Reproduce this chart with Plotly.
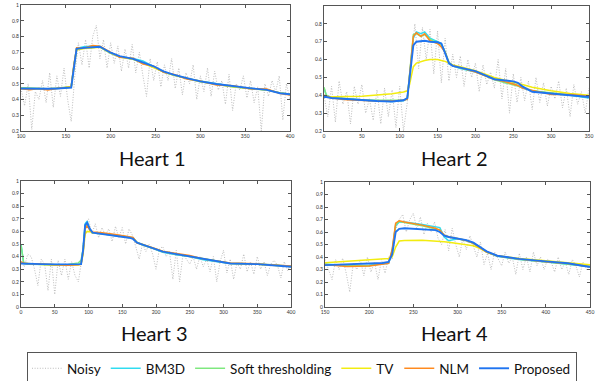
import plotly.graph_objects as go

# ---------------- data ----------------
names = ["Noisy", "BM3D", "Soft thresholding", "TV", "NLM", "Proposed"]
titles = ["Heart 1", "Heart 2", "Heart 3", "Heart 4"]

# Heart 1
x1n = list(range(100, 401, 4))
noisy1 = [.47,.36,.50,.21,.45,.40,.52,.38,.57,.35,.55,.42,.60,.40,.26,.55,.76,.62,.78,.60,
          .80,.87,.66,.78,.60,.76,.63,.74,.58,.72,.60,.75,.57,.70,.55,.42,.66,.52,.64,.48,
          .62,.52,.66,.47,.60,.43,.57,.50,.62,.40,.55,.45,.60,.42,.58,.46,.52,.37,.56,.33,
          .50,.46,.55,.41,.52,.38,.48,.20,.50,.42,.52,.45,.55,.27,.50,.40]
x1s = [100,110,120,130,140,150,156,159,162,170,180,188,200,210,225,236,248,259,270,285,300,318,337,355,374,389,400]
bm3d1 = [.472,.470,.469,.467,.470,.474,.478,.610,.725,.735,.740,.736,.695,.672,.660,.645,.608,.575,.556,.534,.517,.500,.482,.470,.462,.442,.432]
soft1 = [.475,.472,.470,.468,.472,.478,.482,.620,.718,.726,.732,.733,.693,.670,.655,.632,.606,.575,.555,.533,.513,.496,.480,.470,.460,.442,.435]
tv1 = [.470,.469,.468,.469,.471,.474,.478,.600,.715,.724,.730,.732,.694,.673,.656,.630,.605,.576,.556,.535,.514,.497,.481,.471,.461,.441,.434]
nlm1 = [.468,.462,.470,.460,.470,.476,.480,.620,.728,.725,.742,.738,.700,.668,.662,.625,.612,.572,.560,.530,.518,.492,.488,.468,.466,.438,.428]
prop1 = [.470,.468,.468,.468,.470,.472,.475,.600,.722,.728,.733,.735,.697,.675,.658,.637,.611,.579,.558,.536,.515,.498,.483,.472,.461,.440,.433]

# Heart 2
x2n = list(range(0, 351, 5))
noisy2 = [.40,.28,.45,.25,.48,.35,.42,.24,.45,.35,.46,.30,.38,.26,.43,.24,.44,.28,.43,.22,
          .45,.20,.36,.60,.80,.55,.78,.60,.77,.52,.76,.47,.72,.48,.63,.50,.62,.45,.60,.50,
          .58,.42,.57,.46,.53,.44,.60,.38,.55,.30,.52,.36,.50,.37,.48,.32,.50,.36,.47,.34,
          .45,.38,.48,.33,.44,.28,.46,.35,.42,.30,.44]
x2s = [0,3,10,30,50,70,90,105,110,113,118,122,128,133,140,150,155,160,165,170,180,200,225,240,250,256,262,275,300,325,350]
bm3d2 = [.440,.400,.385,.378,.372,.368,.365,.370,.380,.500,.720,.755,.745,.755,.720,.700,.690,.640,.575,.565,.550,.530,.495,.470,.465,.455,.440,.425,.410,.400,.385]
soft2 = [.445,.400,.388,.380,.375,.372,.370,.372,.382,.520,.740,.745,.730,.740,.715,.690,.680,.645,.585,.568,.553,.533,.487,.470,.460,.450,.445,.425,.412,.402,.392]
tv2 = [.390,.390,.392,.393,.395,.400,.408,.418,.425,.460,.560,.580,.590,.595,.600,.600,.595,.590,.580,.570,.560,.538,.500,.485,.475,.468,.460,.445,.425,.410,.400]
nlm2 = [.400,.395,.385,.375,.370,.368,.368,.372,.378,.520,.730,.750,.730,.745,.705,.690,.670,.640,.580,.565,.555,.530,.490,.475,.462,.455,.440,.428,.405,.405,.395]
prop2 = [.390,.390,.385,.378,.372,.368,.365,.372,.385,.500,.680,.700,.705,.705,.700,.697,.690,.640,.580,.565,.555,.535,.490,.482,.478,.470,.450,.420,.410,.403,.390]

# Heart 3
x3n = list(range(0, 401, 5))
noisy3 = [.35,.32,.42,.40,.30,.17,.38,.34,.13,.38,.10,.37,.25,.38,.22,.36,.25,.20,.38,.66,
          .70,.58,.66,.55,.63,.57,.62,.52,.64,.55,.63,.50,.62,.57,.48,.38,.50,.44,.50,.42,
          .30,.46,.48,.40,.44,.22,.45,.20,.42,.38,.34,.40,.30,.40,.32,.38,.28,.40,.20,.36,
          .45,.27,.38,.22,.35,.30,.42,.28,.36,.26,.40,.30,.36,.25,.34,.37,.33,.23,.36,.29,.34]
x3s = [0,4,10,30,50,70,85,89,92,95,98,102,106,120,140,160,166,172,180,195,210,230,250,270,290,310,350,375,400]
bm3d3 = [.500,.345,.340,.338,.335,.335,.338,.345,.460,.660,.680,.615,.590,.580,.565,.555,.550,.510,.492,.465,.435,.415,.400,.375,.358,.345,.340,.335,.322]
soft3 = [.490,.350,.342,.338,.336,.338,.350,.370,.460,.640,.655,.610,.588,.582,.568,.553,.546,.512,.495,.468,.438,.420,.402,.378,.360,.347,.341,.332,.322]
tv3 = [.350,.348,.344,.338,.334,.333,.336,.340,.420,.580,.600,.598,.590,.585,.570,.556,.545,.512,.494,.468,.440,.420,.401,.380,.360,.346,.340,.331,.322]
nlm3 = [.360,.348,.345,.340,.335,.332,.336,.338,.440,.620,.645,.612,.595,.590,.575,.560,.552,.508,.497,.470,.442,.425,.408,.382,.365,.350,.342,.333,.325]
prop3 = [.345,.345,.343,.340,.338,.336,.337,.340,.450,.650,.668,.620,.590,.580,.565,.550,.540,.510,.495,.470,.440,.420,.400,.380,.360,.345,.340,.330,.320]

# Heart 4
x4n = list(range(150, 451, 4))
noisy4 = [.38,.30,.22,.38,.30,.39,.27,.12,.35,.30,.38,.25,.40,.28,.36,.22,.38,.27,.40,.38,
          .62,.70,.74,.60,.70,.75,.62,.72,.58,.67,.60,.68,.55,.50,.62,.45,.63,.50,.40,.55,
          .46,.57,.48,.40,.52,.34,.43,.30,.44,.38,.33,.44,.35,.40,.26,.43,.30,.40,.28,.44,
          .33,.40,.30,.38,.36,.28,.40,.30,.36,.26,.38,.33,.24,.36,.30,.34]
x4s = [150,175,200,215,222,226,230,234,240,260,275,280,285,290,300,310,318,325,333,345,370,400,425,450]
bm3d4 = [.345,.330,.335,.345,.350,.440,.650,.680,.680,.660,.640,.635,.560,.530,.545,.530,.510,.475,.440,.405,.380,.360,.345,.325]
soft4 = [.340,.330,.330,.345,.355,.450,.660,.685,.675,.650,.625,.615,.575,.560,.548,.533,.510,.475,.440,.408,.382,.362,.345,.325]
tv4 = [.355,.365,.375,.382,.388,.400,.480,.528,.532,.535,.530,.527,.522,.518,.510,.500,.490,.470,.440,.410,.388,.370,.352,.338]
nlm4 = [.340,.325,.328,.340,.350,.460,.670,.690,.680,.655,.630,.615,.575,.562,.548,.532,.510,.480,.440,.410,.383,.362,.348,.322]
prop4 = [.335,.340,.345,.352,.360,.420,.600,.625,.630,.620,.615,.600,.570,.560,.550,.535,.515,.480,.445,.410,.385,.365,.350,.320]

x_ranges = [[100, 400], [0, 350], [0, 400], [150, 450]]
y_ranges = [[0.2, 1.0], [0.2, 0.9], [0.0, 1.0], [0.0, 1.0]]
y_ticks = [[0.2, 0.3, 0.4, 0.5, 0.6, 0.7, 0.8, 0.9, 1.0],
           [0.2, 0.3, 0.4, 0.5, 0.6, 0.7, 0.8],
           [0.0, 0.1, 0.2, 0.3, 0.4, 0.5, 0.6, 0.7, 0.8, 0.9, 1.0],
           [0.0, 0.1, 0.2, 0.3, 0.4, 0.5, 0.6, 0.7, 0.8, 0.9, 1.0]]

panels = [
    (x1n, noisy1, x1s, [bm3d1, soft1, tv1, nlm1, prop1]),
    (x2n, noisy2, x2s, [bm3d2, soft2, tv2, nlm2, prop2]),
    (x3n, noisy3, x3s, [bm3d3, soft3, tv3, nlm3, prop3]),
    (x4n, noisy4, x4s, [bm3d4, soft4, tv4, nlm4, prop4]),
]

# ---------------- style ----------------
W, H = 595, 381
colors = ["#2fdcf0", "#7ee87e", "#f2ec10", "#ff8a1e", "#1f74f0"]
widths = [1.5, 1.5, 1.5, 1.5, 1.9]
noisy_color = "#b4b4b4"

# plot boxes in pixels: (left, right, top, bottom)
boxes = [(21, 290, 5, 131), (324, 589, 6, 131), (21, 291, 181, 307), (325, 590, 182, 307)]
title_pos = [(152, 158), (455, 158), (154, 333), (455, 333)]

fig = go.Figure()
for i, (xn, yn, xs, ys_list) in enumerate(panels):
    ax = "" if i == 0 else str(i + 1)
    fig.add_trace(go.Scatter(
        x=xn, y=yn, mode="lines", name=names[0], legendgroup=names[0],
        showlegend=(i == 0), xaxis="x" + ax, yaxis="y" + ax,
        line=dict(color=noisy_color, width=0.9, dash="1px,1.6px")))
    for k, ys in enumerate(ys_list):
        fig.add_trace(go.Scatter(
            x=xs, y=ys, mode="lines", name=names[k + 1], legendgroup=names[k + 1],
            showlegend=(i == 0), xaxis="x" + ax, yaxis="y" + ax,
            line=dict(color=colors[k], width=widths[k])))

layout = dict(
    width=W, height=H, margin=dict(l=0, r=0, t=0, b=0, autoexpand=False),
    paper_bgcolor="white", plot_bgcolor="white",
    font=dict(family="Lato, 'Open Sans', sans-serif", color="#222"),
    legend=dict(orientation="h", x=27 / W, y=1 - 352 / H, xanchor="left", yanchor="top",
                bordercolor="#555", borderwidth=1, bgcolor="white",
                font=dict(size=13.5, family="Lato, sans-serif", color="#111"),
                itemwidth=30, tracegroupgap=0),
    annotations=[],
)
for i in range(4):
    l, r, t, b = boxes[i]
    ax = "" if i == 0 else str(i + 1)
    axis_common = dict(showline=True, linecolor="#555", linewidth=1, mirror="ticks",
                       ticks="inside", ticklen=3, tickcolor="#555", showgrid=False,
                       zeroline=False, tickfont=dict(size=5, color="#333"), automargin=False)
    layout["xaxis" + ax] = dict(domain=[l / W, r / W], range=x_ranges[i], dtick=50,
                                anchor="y" + ax, **axis_common)
    layout["yaxis" + ax] = dict(domain=[1 - b / H, 1 - t / H], range=y_ranges[i],
                                tickmode="array", tickvals=y_ticks[i],
                                anchor="x" + ax, **axis_common)
    tx, ty = title_pos[i]
    layout["annotations"].append(dict(
        text=titles[i], x=tx / W, y=1 - ty / H, xref="paper", yref="paper",
        xanchor="center", yanchor="middle",
        showarrow=False, font=dict(size=20, family="Lato, sans-serif", color="#111")))

fig.update_layout(**layout)
fig.write_html("out.html", config={"displayModeBar": False},
               post_script="document.body.style.margin='0px';document.body.style.padding='0px';")
